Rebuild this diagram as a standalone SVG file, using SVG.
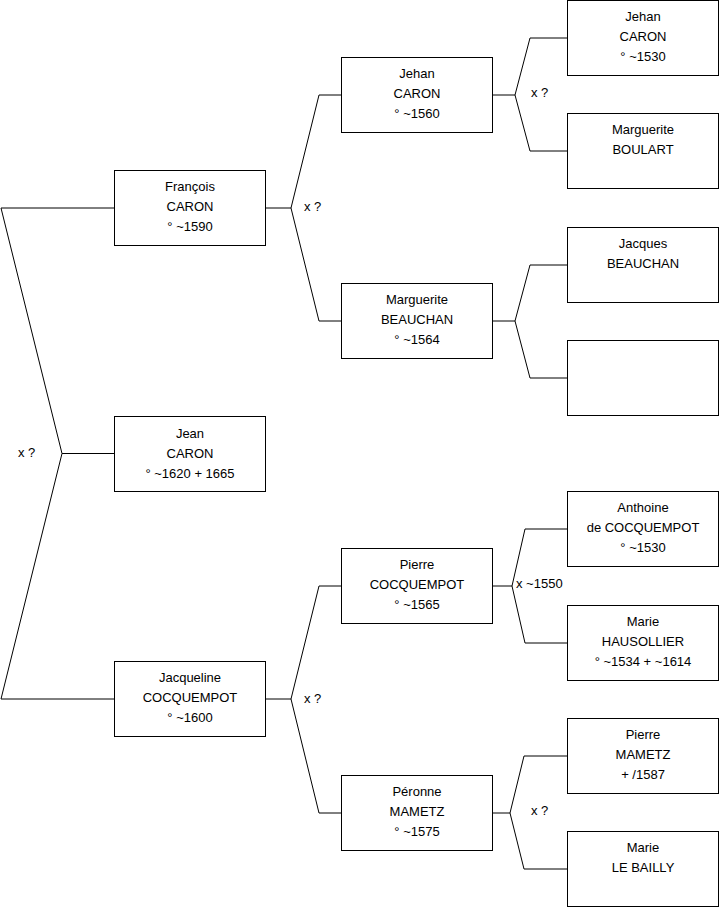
<svg xmlns="http://www.w3.org/2000/svg" width="719" height="908" viewBox="0 0 719 908">
<style>
.box{fill:#fff;stroke:#000;stroke-width:1}
.edge{fill:none;stroke:#000;stroke-width:1}
text{font-family:"Liberation Sans",Arial,sans-serif;font-size:13px;fill:#000}
.c{text-anchor:middle}
</style>
<rect width="719" height="908" fill="#fff"/>
<g id="connectors">
<path class="edge" d="M114.5,453.5 H62 L1,208 H114.5"/>
<path class="edge" d="M62,453.5 L1,699 H114.5"/>
<path class="edge" d="M265.5,208 H291 L319,95 H341.5"/>
<path class="edge" d="M291,208 L319,321 H341.5"/>
<path class="edge" d="M265.5,699 H291 L319,586 H341.5"/>
<path class="edge" d="M291,699 L319,813 H341.5"/>
<path class="edge" d="M492.5,95 H515 L530,38 H567.5"/>
<path class="edge" d="M515,95 L530,151 H567.5"/>
<path class="edge" d="M492.5,321 H515 L530,265 H567.5"/>
<path class="edge" d="M515,321 L530,378 H567.5"/>
<path class="edge" d="M492.5,586 H512 L525,529 H567.5"/>
<path class="edge" d="M512,586 L525,643 H567.5"/>
<path class="edge" d="M492.5,813 H510 L524,756 H567.5"/>
<path class="edge" d="M510,813 L524,869 H567.5"/>
<text x="18" y="457">x ?</text>
<text x="304" y="211">x ?</text>
<text x="531" y="97">x ?</text>
<text x="304" y="703">x ?</text>
<text x="516" y="588">x ~1550</text>
<text x="531" y="815">x ?</text>
</g>
<g id="jean">
<rect class="box" x="114.5" y="416.5" width="151" height="75"/>
<text class="c" x="190" y="438">Jean</text>
<text class="c" x="190" y="458">CARON</text>
<text class="c" x="190" y="478">° ~1620 + 1665</text>
</g>
<g id="francois">
<rect class="box" x="114.5" y="170.5" width="151" height="75"/>
<text class="c" x="190" y="191">François</text>
<text class="c" x="190" y="211">CARON</text>
<text class="c" x="190" y="231">° ~1590</text>
</g>
<g id="jacqueline">
<rect class="box" x="114.5" y="661.5" width="151" height="75"/>
<text class="c" x="190" y="682">Jacqueline</text>
<text class="c" x="190" y="702">COCQUEMPOT</text>
<text class="c" x="190" y="722">° ~1600</text>
</g>
<g id="jehan1560">
<rect class="box" x="341.5" y="57.5" width="151" height="75"/>
<text class="c" x="417" y="78">Jehan</text>
<text class="c" x="417" y="98">CARON</text>
<text class="c" x="417" y="118">° ~1560</text>
</g>
<g id="marguerite-beauchan">
<rect class="box" x="341.5" y="283.5" width="151" height="75"/>
<text class="c" x="417" y="304">Marguerite</text>
<text class="c" x="417" y="324">BEAUCHAN</text>
<text class="c" x="417" y="344">° ~1564</text>
</g>
<g id="pierre-cocquempot">
<rect class="box" x="341.5" y="548.5" width="151" height="75"/>
<text class="c" x="417" y="569">Pierre</text>
<text class="c" x="417" y="589">COCQUEMPOT</text>
<text class="c" x="417" y="609">° ~1565</text>
</g>
<g id="peronne">
<rect class="box" x="341.5" y="775.5" width="151" height="75"/>
<text class="c" x="417" y="796">Péronne</text>
<text class="c" x="417" y="816">MAMETZ</text>
<text class="c" x="417" y="836">° ~1575</text>
</g>
<g id="jehan1530">
<rect class="box" x="567.5" y="0.5" width="151" height="75"/>
<text class="c" x="643" y="21">Jehan</text>
<text class="c" x="643" y="41">CARON</text>
<text class="c" x="643" y="61">° ~1530</text>
</g>
<g id="marguerite-boulart">
<rect class="box" x="567.5" y="113.5" width="151" height="75"/>
<text class="c" x="643" y="134">Marguerite</text>
<text class="c" x="643" y="154">BOULART</text>
</g>
<g id="jacques-beauchan">
<rect class="box" x="567.5" y="227.5" width="151" height="75"/>
<text class="c" x="643" y="248">Jacques</text>
<text class="c" x="643" y="268">BEAUCHAN</text>
</g>
<g id="unknown">
<rect class="box" x="567.5" y="340.5" width="151" height="75"/>
</g>
<g id="anthoine">
<rect class="box" x="567.5" y="491.5" width="151" height="75"/>
<text class="c" x="643" y="512">Anthoine</text>
<text class="c" x="643" y="532">de COCQUEMPOT</text>
<text class="c" x="643" y="552">° ~1530</text>
</g>
<g id="marie-hausollier">
<rect class="box" x="567.5" y="605.5" width="151" height="75"/>
<text class="c" x="643" y="626">Marie</text>
<text class="c" x="643" y="646">HAUSOLLIER</text>
<text class="c" x="643" y="666">° ~1534 + ~1614</text>
</g>
<g id="pierre-mametz">
<rect class="box" x="567.5" y="718.5" width="151" height="75"/>
<text class="c" x="643" y="739">Pierre</text>
<text class="c" x="643" y="759">MAMETZ</text>
<text class="c" x="643" y="779">+ /1587</text>
</g>
<g id="marie-lebailly">
<rect class="box" x="567.5" y="831.5" width="151" height="75"/>
<text class="c" x="643" y="852">Marie</text>
<text class="c" x="643" y="872">LE BAILLY</text>
</g>
</svg>
